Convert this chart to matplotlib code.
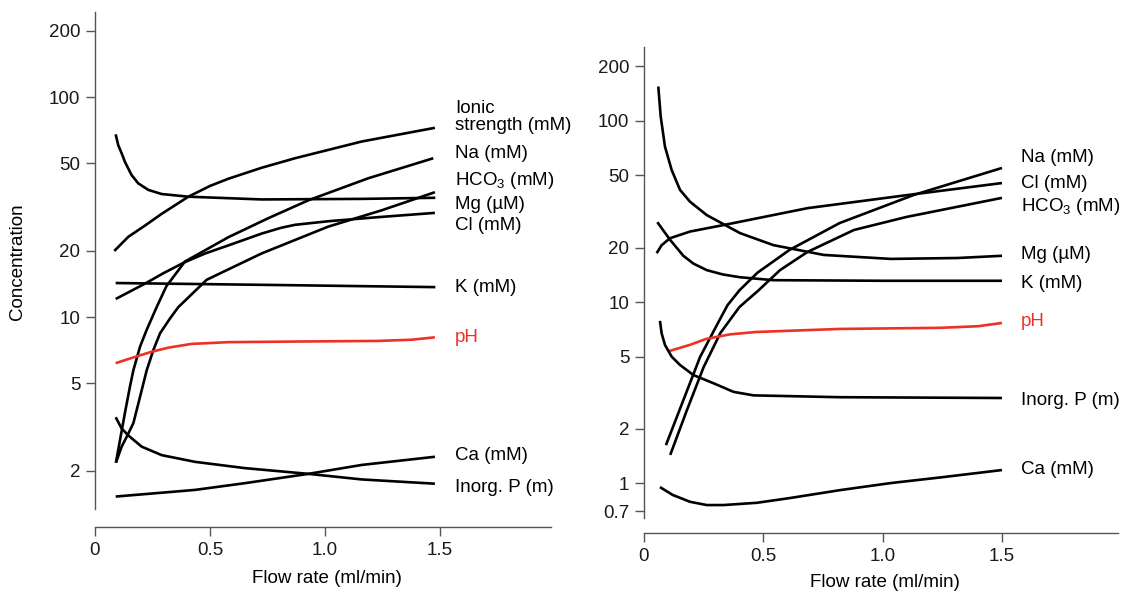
import matplotlib.pyplot as plt
from matplotlib.ticker import FixedLocator, FixedFormatter, NullLocator

plt.rcParams['font.family'] = ['Liberation Sans', 'DejaVu Sans']
plt.rcParams['mathtext.fontset'] = 'custom'
plt.rcParams['mathtext.rm'] = 'Liberation Sans'
plt.rcParams['mathtext.default'] = 'regular'

# ---- left panel data (flow rate ml/min, concentration) ----
ionic_l_x = [0.084, 0.145, 0.22, 0.29, 0.406, 0.50, 0.58, 0.725, 0.87, 1.16, 1.478]
ionic_l_y = [20, 23.2, 26.2, 29.5, 35.3, 39.5, 42.6, 47.8, 52.8, 62.9, 72.6]
na_l_x = [0.091, 0.109, 0.13, 0.152, 0.167, 0.196, 0.225, 0.268, 0.31, 0.391,
          0.58, 0.754, 0.928, 1.188, 1.471]
na_l_y = [2.18, 2.77, 3.66, 4.83, 5.74, 7.35, 8.77, 11.1, 13.8, 17.9,
          23.1, 28.2, 34, 42.8, 52.8]
hco3_l_x = [0.091, 0.116, 0.138, 0.167, 0.196, 0.225, 0.254, 0.283, 0.326, 0.362,
            0.486, 0.725, 1.014, 1.246, 1.478]
hco3_l_y = [2.18, 2.58, 2.86, 3.3, 4.35, 5.74, 7.1, 8.45, 9.86, 11.1,
            14.8, 19.5, 25.8, 30.6, 37]
mg_l_x = [0.09, 0.101, 0.116, 0.13, 0.159, 0.188, 0.232, 0.29, 0.406, 0.725,
          1.16, 1.48]
mg_l_y = [67.8, 60.6, 55.6, 50.9, 44.3, 40.6, 37.9, 36.3, 35.3, 34.3,
          34.5, 34.9]
cl_l_x = [0.09, 0.217, 0.30, 0.391, 0.48, 0.58, 0.725, 0.81, 0.87, 1.014, 1.232, 1.478]
cl_l_y = [12.1, 14.2, 15.9, 17.8, 19.5, 21.2, 24.0, 25.5, 26.3, 27.3, 28.5, 29.8]
k_l_x = [0.09, 0.8, 1.48]
k_l_y = [14.3, 14.0, 13.7]
ph_l_x = [0.09, 0.174, 0.246, 0.319, 0.42, 0.58, 0.87, 1.23, 1.377, 1.478]
ph_l_y = [6.18, 6.6, 6.96, 7.27, 7.56, 7.7, 7.75, 7.8, 7.9, 8.1]
ca_l_x = [0.09, 0.25, 0.435, 0.652, 0.928, 1.16, 1.478]
ca_l_y = [1.53, 1.58, 1.64, 1.76, 1.94, 2.13, 2.32]
p_l_x = [0.09, 0.116, 0.145, 0.203, 0.29, 0.435, 0.652, 0.928, 1.16, 1.478]
p_l_y = [3.51, 3.12, 2.9, 2.58, 2.36, 2.2, 2.06, 1.94, 1.83, 1.75]

# ---- right panel data ----
na_r_x = [0.092, 0.165, 0.235, 0.31, 0.35, 0.40, 0.475, 0.61, 0.82, 1.13, 1.50]
na_r_y = [1.62, 2.87, 4.97, 7.66, 9.6, 11.6, 14.5, 19.4, 27.3, 39, 55]
cl_r_x = [0.053, 0.074, 0.109, 0.193, 0.333, 0.686, 1.106, 1.50]
cl_r_y = [18.6, 20.6, 22.5, 24.5, 26.6, 33, 39, 45.4]
hco3_r_x = [0.11, 0.18, 0.25, 0.32, 0.40, 0.48, 0.57, 0.685, 0.88, 1.10, 1.50]
hco3_r_y = [1.43, 2.53, 4.37, 6.74, 9.38, 11.6, 15, 18.9, 25, 29.5, 37.6]
mg_r_x = [0.06, 0.07, 0.088, 0.116, 0.151, 0.193, 0.263, 0.403, 0.543, 0.753,
          1.034, 1.314, 1.50]
mg_r_y = [155, 106, 72.1, 53.6, 41.6, 35.8, 30.2, 24.0, 20.6, 18.2,
          17.3, 17.5, 18]
k_r_x = [0.056, 0.11, 0.165, 0.207, 0.263, 0.33, 0.403, 0.543, 1.0, 1.50]
k_r_y = [27.6, 22, 18.0, 16.3, 15.0, 14.2, 13.7, 13.2, 13.1, 13.1]
ph_r_x = [0.106, 0.193, 0.26, 0.361, 0.47, 0.82, 1.24, 1.40, 1.50]
ph_r_y = [5.36, 5.8, 6.25, 6.63, 6.83, 7.1, 7.2, 7.35, 7.66]
p_r_x = [0.067, 0.074, 0.088, 0.116, 0.151, 0.207, 0.291, 0.375, 0.459, 0.82, 1.50]
p_r_y = [7.87, 6.71, 5.79, 4.99, 4.49, 3.95, 3.56, 3.19, 3.05, 2.98, 2.95]
ca_r_x = [0.067, 0.12, 0.193, 0.263, 0.333, 0.473, 0.61, 0.824, 1.034, 1.244, 1.50]
ca_r_y = [0.95, 0.86, 0.788, 0.756, 0.756, 0.778, 0.826, 0.915, 1.0, 1.075, 1.18]

left_series = [
    (ionic_l_x, ionic_l_y, 'k'), (na_l_x, na_l_y, 'k'), (hco3_l_x, hco3_l_y, 'k'),
    (mg_l_x, mg_l_y, 'k'), (cl_l_x, cl_l_y, 'k'), (k_l_x, k_l_y, 'k'),
    (ph_l_x, ph_l_y, 'r'), (ca_l_x, ca_l_y, 'k'), (p_l_x, p_l_y, 'k'),
]
right_series = [
    (na_r_x, na_r_y, 'k'), (cl_r_x, cl_r_y, 'k'), (hco3_r_x, hco3_r_y, 'k'),
    (mg_r_x, mg_r_y, 'k'), (k_r_x, k_r_y, 'k'), (ph_r_x, ph_r_y, 'r'),
    (p_r_x, p_r_y, 'k'), (ca_r_x, ca_r_y, 'k'),
]

left_labels = ['Ionic\nstrength (mM)', 'Na (mM)', 'HCO$_3$ (mM)', 'Mg (µM)', 'Cl (mM)',
               'K (mM)', 'pH', 'Ca (mM)', 'Inorg. P (m)']
left_label_y = [81.6, 55.3, 42, 32.4, 26.1, 13.7, 8.1, 2.36, 1.68]
right_labels = ['Na (mM)', 'Cl (mM)', 'HCO$_3$ (mM)', 'Mg (µM)', 'K (mM)', 'pH',
                'Inorg. P (m)', 'Ca (mM)']
right_label_y = [62.5, 44.9, 33.5, 18.4, 12.7, 7.76, 2.84, 1.19]

left_yticks = [2, 5, 10, 20, 50, 100, 200]
right_yticks = [0.7, 1, 2, 5, 10, 20, 50, 100, 200]
xticks = [0, 0.5, 1.0, 1.5]
xticklabels = ['0', '0.5', '1.0', '1.5']

RED = '#ee3124'
SPINE = '#555555'
FS = 13.5

fig = plt.figure(figsize=(11.28, 5.94), dpi=100)
ax1 = fig.add_axes([0.0842, 0.1431, 0.4043, 0.8367])
ax2 = fig.add_axes([0.5709, 0.1279, 0.4202, 0.7929])


def style_axis(ax, yticks, ylim, xmax, offset_pt):
    ax.set_yscale('log')
    ax.set_ylim(*ylim)
    ax.set_xlim(0, xmax)
    ax.yaxis.set_major_locator(FixedLocator(yticks))
    ax.yaxis.set_major_formatter(FixedFormatter([f'{t:g}' for t in yticks]))
    ax.yaxis.set_minor_locator(NullLocator())
    ax.set_xticks(xticks)
    ax.set_xticklabels(xticklabels)
    for s in ['top', 'right']:
        ax.spines[s].set_visible(False)
    for s in ['left', 'bottom']:
        ax.spines[s].set_color(SPINE)
        ax.spines[s].set_linewidth(1.0)
    ax.spines['bottom'].set_position(('outward', offset_pt))
    ax.tick_params(direction='out', length=6.5, width=1.0, color=SPINE,
                   labelsize=FS, labelcolor='#1a1a1a', pad=4)
    ax.patch.set_alpha(0)


style_axis(ax1, left_yticks, (1.343, 244), 1.983, 13.0)
style_axis(ax2, right_yticks, (0.641, 256), 1.986, 10.8)

for ax, series in [(ax1, left_series), (ax2, right_series)]:
    for xs, ys, c in series:
        ax.plot(xs, ys, color=RED if c == 'r' else 'black', lw=1.9,
                solid_capstyle='butt', solid_joinstyle='round', clip_on=False)

for lab, y in zip(left_labels, left_label_y):
    ax1.text(1.565, y, lab, fontsize=FS, va='center', ha='left',
             color=RED if lab == 'pH' else 'black', linespacing=1.0)
for lab, y in zip(right_labels, right_label_y):
    ax2.text(1.58, y, lab, fontsize=FS, va='center', ha='left',
             color=RED if lab == 'pH' else 'black')

ax1.set_ylabel('Concentration', fontsize=FS)
ax1.yaxis.set_label_coords(-0.169, 0.497)
ax1.yaxis.label.set_verticalalignment('center')

ax1.set_xlabel('Flow rate (ml/min)', fontsize=FS)
ax1.xaxis.set_label_coords(0.509, -0.139)
ax1.xaxis.label.set_verticalalignment('center')
ax2.set_xlabel('Flow rate (ml/min)', fontsize=FS)
ax2.xaxis.set_label_coords(0.508, -0.136)
ax2.xaxis.label.set_verticalalignment('center')

fig.savefig('out.png', dpi=100, facecolor='white')
